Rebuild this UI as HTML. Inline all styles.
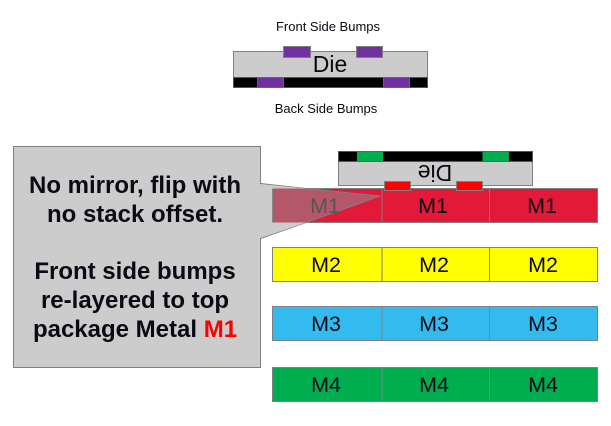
<!DOCTYPE html>
<html>
<head>
<meta charset="utf-8">
<style>
html,body{margin:0;padding:0;background:#fff;width:611px;height:426px;overflow:hidden}
svg{display:block;filter:blur(0.35px)}
text{font-family:"Liberation Sans",Arial,sans-serif;fill:#0a0a14}
</style>
</head>
<body>
<svg width="611" height="426" viewBox="0 0 611 426" xmlns="http://www.w3.org/2000/svg">
  <g text-anchor="middle">
    <text x="328" y="31" font-size="13">Front Side Bumps</text>
    <text x="326" y="113" font-size="13">Back Side Bumps</text>
  </g>
  <!-- top die -->
  <g stroke="#808080" stroke-width="1">
    <rect x="233.5" y="51.5" width="194" height="26" fill="#cccccc"/>
    <rect x="233.5" y="77.5" width="194" height="10" fill="#000" stroke="#555"/>
    <rect x="283.5" y="46.5" width="27" height="11" fill="#7030a0"/>
    <rect x="356.5" y="46.5" width="26" height="11" fill="#7030a0"/>
    <rect x="257.5" y="77.5" width="26" height="10" fill="#7030a0" stroke="#666"/>
    <rect x="383.5" y="77.5" width="26" height="10" fill="#7030a0" stroke="#666"/>
  </g>
  <text x="330" y="72" font-size="23" text-anchor="middle">Die</text>

  <!-- metal rows -->
  <g stroke="#808080" stroke-width="1">
    <rect x="272.5" y="188.5" width="325" height="34" fill="#e3193a"/>
    <rect x="272.5" y="247.5" width="325" height="34" fill="#ffff00"/>
    <rect x="272.5" y="306.5" width="325" height="34" fill="#33bbf0"/>
    <rect x="272.5" y="367.5" width="325" height="34" fill="#00ae50"/>
    <path d="M382 188V222M489.5 188V222M382 247V281M489.5 247V281M382 306V340M489.5 306V340M382 367V401M489.5 367V401" fill="none"/>
  </g>
  <g font-size="21.5" text-anchor="middle">
    <text x="433" y="213">M1</text><text x="542" y="213">M1</text>
    <text x="326" y="272">M2</text><text x="434" y="272">M2</text><text x="543" y="272">M2</text>
    <text x="326" y="331">M3</text><text x="434" y="331">M3</text><text x="543" y="331">M3</text>
    <text x="326" y="392">M4</text><text x="434" y="392">M4</text><text x="543" y="392">M4</text>
  </g>

  <!-- flipped die -->
  <g stroke="#808080" stroke-width="1">
    <rect x="338.5" y="161.5" width="194" height="24" fill="#cccccc"/>
    <rect x="338.5" y="151.5" width="194" height="10" fill="#000" stroke="#555"/>
    <rect x="357" y="151.5" width="26" height="10" fill="#00ae50" stroke="none"/>
    <rect x="482.5" y="151.5" width="26.5" height="10" fill="#00ae50" stroke="none"/>
    <rect x="384.5" y="181.5" width="26" height="9" fill="#ff0000"/>
    <rect x="456.5" y="181.5" width="26" height="9" fill="#ff0000"/>
  </g>
  <text x="435" y="181" font-size="23" text-anchor="middle" transform="rotate(180 435 173)">Die</text>

  <!-- callout -->
  <path d="M13.5 146.5H260.5V183.5L335 194.5L260.5 238.5V367.5H13.5Z" fill="#cccccc" stroke="#808080" stroke-width="1"/>
  <polygon points="272.5,188.5 306,188.5 380,196 306,222.5 272.5,222.5" fill="#b5576b" stroke="none"/>
  <path d="M260.5 183.5L306 188.5L380 196L306 222.5L260.5 238.5" fill="none" stroke="#808080" stroke-width="1"/>
  <polygon points="260.5,184 306,188.5 272.5,188.5 272.5,222.5 306,222.5 260.5,238" fill="#cccccc" stroke="none"/>
  <path d="M272.5 188.5V222.5" stroke="#888" stroke-width="1"/>
  <text x="325" y="213" font-size="21.5" text-anchor="middle" style="fill:#555">M1</text>

  <g font-size="24" font-weight="bold" text-anchor="middle">
    <text x="135" y="193">No mirror, flip with</text>
    <text x="135" y="222">no stack offset.</text>
    <text x="135" y="279">Front side bumps</text>
    <text x="135" y="308">re-layered to top</text>
    <text x="135" y="337">package Metal <tspan style="fill:#ff0000">M1</tspan></text>
  </g>
</svg>
</body>
</html>
